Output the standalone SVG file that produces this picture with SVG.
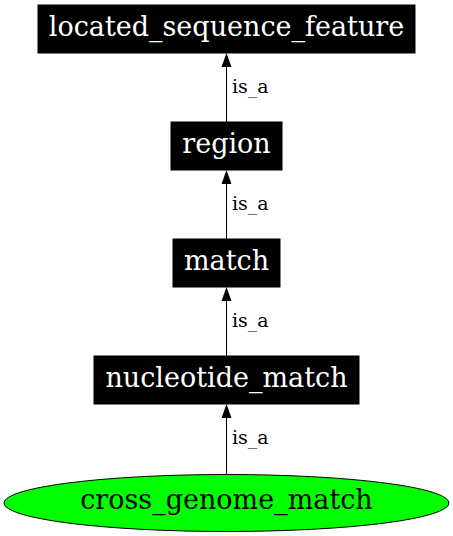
<svg xmlns="http://www.w3.org/2000/svg" width="453" height="536" viewBox="0 0 453 536">
<style>
.box{fill:#000;stroke:#000;stroke-width:1}
.nt{font-family:"DejaVu Serif",serif;font-size:27px;fill:#fff;text-anchor:middle}
.et{font-family:"DejaVu Serif",serif;font-size:19px;fill:#000}
.edge{stroke:#000;stroke-width:1;fill:none}
</style>
<rect width="453" height="536" fill="#fff"/>
<g id="edges">
<path class="edge" d="M226.5,122 V67"/>
<path d="M221.5,67 L226.5,53 L231.5,67 Z"/>
<text class="et" x="232" y="93">is_a</text>
<path class="edge" d="M226.5,239 V184"/>
<path d="M221.5,184 L226.5,170 L231.5,184 Z"/>
<text class="et" x="232" y="210">is_a</text>
<path class="edge" d="M226.5,356 V301"/>
<path d="M221.5,301 L226.5,287 L231.5,301 Z"/>
<text class="et" x="232" y="327">is_a</text>
<path class="edge" d="M226.5,474 V418"/>
<path d="M221.5,418 L226.5,404 L231.5,418 Z"/>
<text class="et" x="232" y="444">is_a</text>
</g>
<g id="located_sequence_feature">
<rect class="box" x="38" y="5" width="377" height="48"/>
<text class="nt" x="226.5" y="36">located_sequence_feature</text>
</g>
<g id="region">
<rect class="box" x="171" y="122" width="111" height="48"/>
<text class="nt" x="226.5" y="153">region</text>
</g>
<g id="match">
<rect class="box" x="173" y="239" width="107" height="48"/>
<text class="nt" x="226.5" y="270">match</text>
</g>
<g id="nucleotide_match">
<rect class="box" x="94" y="356" width="265" height="48"/>
<text class="nt" x="226.5" y="387">nucleotide_match</text>
</g>
<g id="cross_genome_match">
<ellipse cx="226.5" cy="503" rx="222.5" ry="28.5" fill="#00ff00" stroke="#000" stroke-width="1"/>
<text class="nt" x="226.5" y="509" style="fill:#000">cross_genome_match</text>
</g>
</svg>
